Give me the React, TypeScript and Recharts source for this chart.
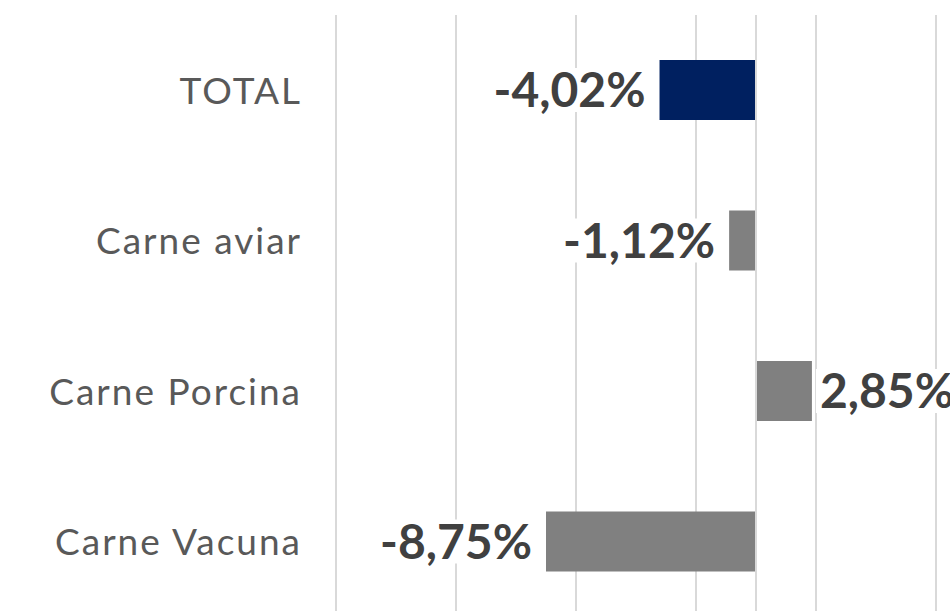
import React from 'react';
import {
  BarChart,
  Bar,
  XAxis,
  YAxis,
  CartesianGrid,
  ReferenceLine,
  LabelList,
  Cell,
} from 'recharts';

const categories = ['TOTAL', 'Carne aviar', 'Carne Porcina', 'Carne Vacuna'];
// bar lengths as drawn in the picture (Porcina bar is drawn shorter than its label)
const variation = [-4.02, -1.12, 2.33, -8.75];
const valueLabels = ['-4,02%', '-1,12%', '2,85%', '-8,75%'];
const barColors = ['#002060', '#808080', '#808080', '#808080'];
const xTicks = [-17.5, -12.5, -7.5, -2.5, 2.5, 7.5];

const data = categories.map((name, i) => ({
  name,
  value: variation[i],
  label: valueLabels[i],
}));

const LABEL_SIZE = 48;

function ValueLabel(props: any) {
  const { x, y, width, height, index } = props;
  const d = data[index];
  const left = Math.min(x, x + width);
  const right = Math.max(x, x + width);
  const cy = y + height / 2;
  const text = d.label;
  const w = text.length * 0.53 * LABEL_SIZE;
  const neg = d.value < 0;
  const tx = neg ? left - 14 : right + 8;
  const bx = neg ? tx - w - 4 : tx - 4;
  return (
    <g>
      <rect x={bx} y={cy - 22} width={w + 8} height={44} fill="#fff" />
      <text
        x={tx}
        y={cy}
        dy="0.36em"
        textAnchor={neg ? 'end' : 'start'}
        fontFamily="Lato, 'Open Sans', sans-serif"
        fontWeight={700}
        fontSize={LABEL_SIZE}
        fill="#404040"
      >
        {text}
      </text>
    </g>
  );
}

function CategoryTick(props: any) {
  const { x, y, payload } = props;
  return (
    <text
      x={x}
      y={y}
      dy="0.36em"
      textAnchor="end"
      fontFamily="Lato, 'Open Sans', sans-serif"
      fontSize={37}
      letterSpacing={2}
      fill="#595959"
    >
      {payload.value}
    </text>
  );
}

export default function App() {
  return (
    <div
      style={{
        position: 'fixed',
        left: 0,
        top: 0,
        width: 950,
        height: 611,
        overflow: 'hidden',
        background: '#fff',
      }}
    >
      <BarChart
        width={950}
        height={625}
        data={data}
        layout="vertical"
        margin={{ top: 15, right: 14, bottom: 8, left: 0 }}
        barCategoryGap="30%"
      >
        <CartesianGrid horizontal={false} stroke="#d9d9d9" strokeWidth={2} />
        <XAxis
          type="number"
          domain={[-17.5, 7.5]}
          ticks={xTicks}
          hide
        />
        <YAxis
          type="category"
          dataKey="name"
          width={336}
          axisLine={false}
          tickLine={false}
          tickMargin={28}
          tick={<CategoryTick />}
        />
        <ReferenceLine x={0} stroke="#d9d9d9" strokeWidth={2} />
        <Bar dataKey="value" barSize={60} isAnimationActive={false}>
          {data.map((d, i) => (
            <Cell key={d.name} fill={barColors[i]} />
          ))}
          <LabelList dataKey="value" content={<ValueLabel />} />
        </Bar>
      </BarChart>
    </div>
  );
}
